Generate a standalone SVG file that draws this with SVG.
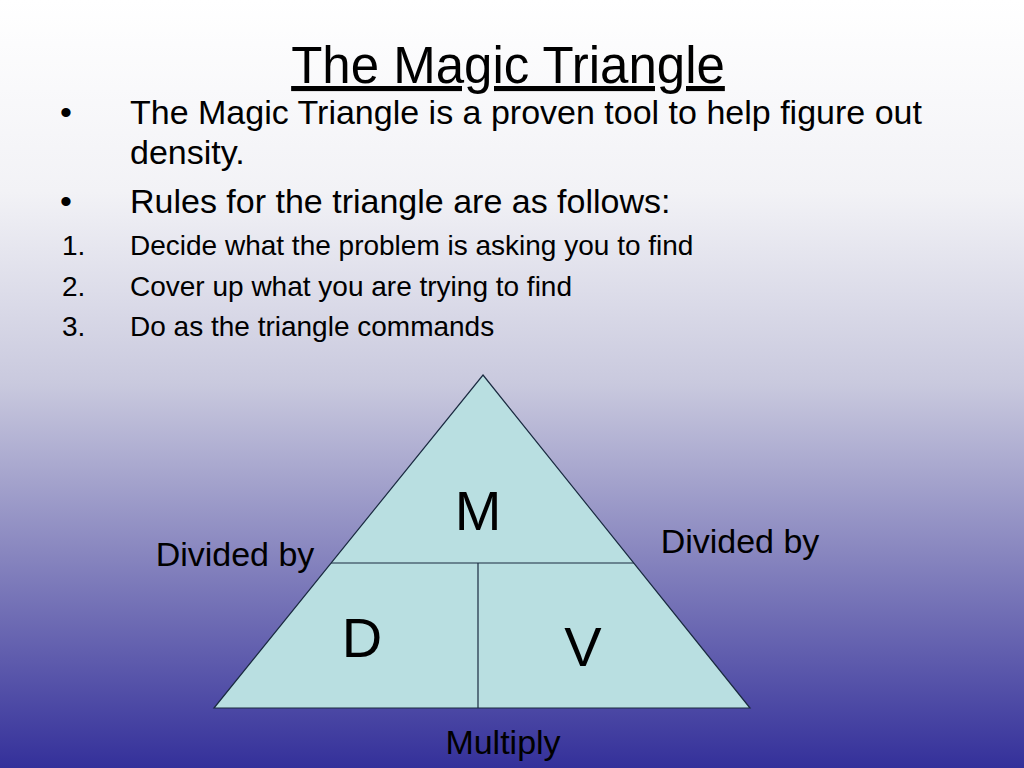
<svg xmlns="http://www.w3.org/2000/svg" width="1024" height="768" viewBox="0 0 1024 768">
<defs>
<linearGradient id="bg" x1="0" y1="0" x2="0" y2="1">
<stop offset="0" stop-color="#ffffff"/>
<stop offset="0.25" stop-color="#f2f2f6"/>
<stop offset="0.5" stop-color="#c9c9de"/>
<stop offset="0.72" stop-color="#8886bf"/>
<stop offset="1" stop-color="#34309a"/>
</linearGradient>
<style>
text{font-family:"Liberation Sans",Arial,sans-serif;fill:#000}
.t{font-size:51px;text-decoration:underline}
.b{font-size:34px}
.n{font-size:28px}
.big{font-size:56px}
.lbl{font-size:34px}
.cell{fill:#b9dfe1;stroke:#1a2a40;stroke-width:1.2}
.ln{stroke:#1a2a40;stroke-width:1.2;fill:none}
</style>
</defs>
<rect x="0" y="0" width="1024" height="768" fill="url(#bg)"/>
<text class="t" x="508" y="83" text-anchor="middle">The Magic Triangle</text>
<g id="bullets">
<text class="b" x="60" y="124">•</text>
<text class="b" x="130" y="124">The Magic Triangle is a proven tool to help figure out</text>
<text class="b" x="130" y="164">density.</text>
<text class="b" x="60" y="213">•</text>
<text class="b" x="130" y="213">Rules for the triangle are as follows:</text>
<text class="n" x="62" y="255">1.</text>
<text class="n" x="130" y="255">Decide what the problem is asking you to find</text>
<text class="n" x="62" y="296">2.</text>
<text class="n" x="130" y="296">Cover up what you are trying to find</text>
<text class="n" x="62" y="336">3.</text>
<text class="n" x="130" y="336">Do as the triangle commands</text>
</g>
<g id="triangle">
<polygon class="cell" points="483,375 750,708 214,708"/>
</g>
<g id="connectors">
<line class="ln" x1="331" y1="563" x2="634" y2="563"/>
<line class="ln" x1="478" y1="563" x2="478" y2="708"/>
</g>
<g id="node-M"><text class="big" x="478" y="530" text-anchor="middle">M</text></g>
<g id="node-D"><text class="big" x="362" y="657" text-anchor="middle">D</text></g>
<g id="node-V"><text class="big" x="583" y="666" text-anchor="middle">V</text></g>
<g id="labels">
<text class="lbl" x="235" y="566" text-anchor="middle">Divided by</text>
<text class="lbl" x="740" y="553" text-anchor="middle">Divided by</text>
<text class="lbl" x="503" y="754" text-anchor="middle">Multiply</text>
</g>
</svg>
